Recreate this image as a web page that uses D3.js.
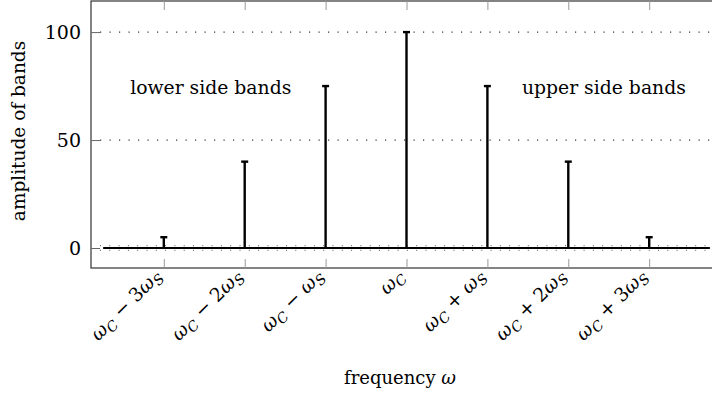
<!DOCTYPE html>
<html><head><meta charset="utf-8">
<script src="https://cdnjs.cloudflare.com/ajax/libs/d3/7.8.5/d3.min.js"></script>
<style>
body{margin:0;background:#fff;}
svg text{font-family:"DejaVu Serif",serif;fill:#000;}
</style></head><body>
<svg id="c" width="712" height="396"></svg>
<script>
// data
const positions = [-3, -2, -1, 0, 1, 2, 3];
const amplitudes = [5, 40, 75, 100, 75, 40, 5];
const harmonics = [-3, -2, -1, 0, 1, 2, 3]; // multiple of ω_S in label
const yTicks = [0, 50, 100];
const annotations = ["lower side bands", "upper side bands"];

const FONT = "DejaVu Serif";
const svg = d3.select("#c");
const x = d3.scaleLinear().domain([-3.9, 3.9]).range([91, 722]);
const y = d3.scaleLinear().domain([-9.26, 114.4]).range([268, 1]);

// grid lines (dotted)
svg.append("g").selectAll("line").data(yTicks.filter(d => d > 0)).join("line")
  .attr("x1", x(-3.9) + 9).attr("x2", x(3.9))
  .attr("y1", d => y(d)).attr("y2", d => y(d))
  .attr("stroke", "#333").attr("stroke-width", 1.2)
  .attr("stroke-dasharray", "1.2,8.3");

// baseline
svg.append("line")
  .attr("x1", x(-3.75)).attr("x2", x(3.75))
  .attr("y1", y(0)).attr("y2", y(0))
  .attr("stroke", "#000").attr("stroke-width", 2);
svg.append("line")
  .attr("x1", x(-3.9) + 9).attr("x2", x(3.9))
  .attr("y1", y(0)).attr("y2", y(0))
  .attr("stroke", "#555").attr("stroke-width", 1)
  .attr("stroke-dasharray", "1,8.3").attr("transform", "translate(0,-2.3)");
svg.append("line")
  .attr("x1", x(-3.9) + 9).attr("x2", x(3.9))
  .attr("y1", y(0)).attr("y2", y(0))
  .attr("stroke", "#555").attr("stroke-width", 1)
  .attr("stroke-dasharray", "1,8.3").attr("transform", "translate(0,2.3)");

// frame
svg.append("rect").attr("x", x(-3.9)).attr("y", y(114.4))
  .attr("width", x(3.9) - x(-3.9)).attr("height", y(-9.26) - y(114.4))
  .attr("fill", "none").attr("stroke", "#333").attr("stroke-width", 1.2);

// y axis ticks
const yAxis = d3.axisLeft(y).tickValues(yTicks).tickSize(-9).tickPadding(10);
const gy = svg.append("g").attr("transform", `translate(${x(-3.9)},0)`).call(yAxis)
  .attr("font-family", FONT);
gy.select(".domain").remove();
gy.selectAll(".tick line").attr("stroke", "#666").attr("stroke-width", 1);
gy.selectAll(".tick text").attr("font-size", 19).attr("dy", "0.36em");

// x axis ticks (inside, bottom & top)
const xAxisB = d3.axisBottom(x).tickValues(positions).tickSize(-9).tickFormat("");
const gxb = svg.append("g").attr("transform", `translate(0,${y(-9.26)})`).call(xAxisB);
gxb.select(".domain").remove();
gxb.selectAll(".tick line").attr("stroke", "#999");
const xAxisT = d3.axisTop(x).tickValues(positions).tickSize(-9).tickFormat("");
const gxt = svg.append("g").attr("transform", `translate(0,${y(114.4)})`).call(xAxisT);
gxt.select(".domain").remove();
gxt.selectAll(".tick line").attr("stroke", "#999");

// x tick labels rotated
const lab = svg.append("g").attr("font-family", FONT).selectAll("text").data(harmonics).join("text")
  .attr("transform", d => `translate(${x(d) - 1},${y(-9.26) + 9}) rotate(-45)`)
  .attr("text-anchor", "end").attr("font-size", 19);
lab.each(function(h) {
  const t = d3.select(this);
  t.append("tspan").attr("font-style", "italic").text("ω");
  t.append("tspan").attr("font-style", "italic").attr("font-size", 14).attr("dy", 4).text("C");
  if (h !== 0) {
    const op = h < 0 ? "−" : "+";
    const k = Math.abs(h);
    t.append("tspan").attr("dy", -4).text(" " + op + " " + (k > 1 ? k : ""));
    t.append("tspan").attr("font-style", "italic").text("ω");
    t.append("tspan").attr("font-style", "italic").attr("font-size", 14).attr("dy", 4).text("S");
  }
});

// stems
const stems = svg.append("g");
stems.selectAll("line.stem").data(positions).join("line").attr("class", "stem")
  .attr("x1", d => x(d)).attr("x2", d => x(d))
  .attr("y1", y(0)).attr("y2", (d, i) => y(amplitudes[i]))
  .attr("stroke", "#000").attr("stroke-width", 2.4);
stems.selectAll("line.cap").data(positions).join("line").attr("class", "cap")
  .attr("x1", d => x(d) - 3.5).attr("x2", d => x(d) + 3.5)
  .attr("y1", (d, i) => y(amplitudes[i])).attr("y2", (d, i) => y(amplitudes[i]))
  .attr("stroke", "#000").attr("stroke-width", 2.4);

// annotations
const ann = svg.append("g").attr("font-family", FONT);
ann.append("text").attr("x", x(-2.42)).attr("y", y(74)).attr("dy", "0.33em")
  .attr("text-anchor", "middle").attr("font-size", 18.8).text(annotations[0]);
ann.append("text").attr("x", x(2.44)).attr("y", y(74)).attr("dy", "0.33em")
  .attr("text-anchor", "middle").attr("font-size", 18.8).text(annotations[1]);

// axis labels
const xl = svg.append("text").attr("x", 400).attr("y", 384).attr("text-anchor", "middle")
  .attr("font-size", 18).attr("font-family", FONT);
xl.append("tspan").text("frequency ");
xl.append("tspan").attr("font-style", "italic").text("ω");
svg.append("text").attr("transform", "translate(25,131) rotate(-90)").attr("font-family", FONT)
  .attr("text-anchor", "middle").attr("font-size", 18.5).text("amplitude of bands");
</script>
</body></html>
